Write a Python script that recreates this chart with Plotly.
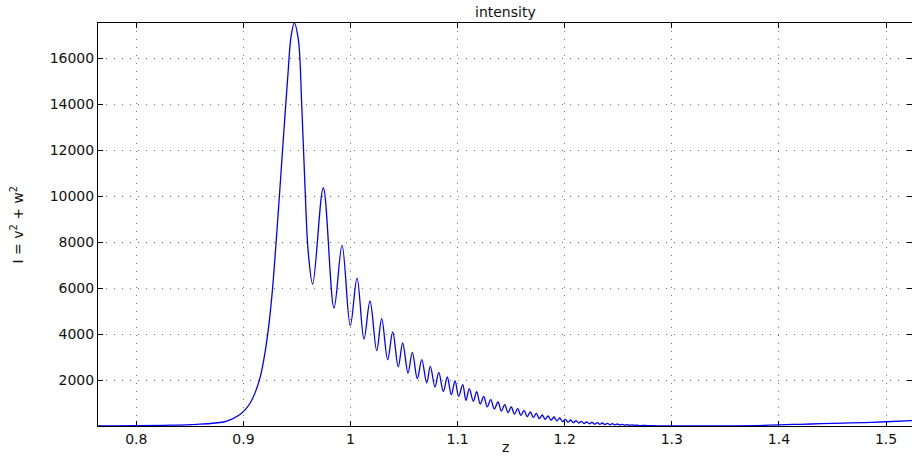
import plotly.graph_objects as go

# z positions and intensity values (extrema and shape points)
z_vals = [
    0.7643, 0.780, 0.800, 0.8256, 0.8567, 0.8816, 0.8877, 0.8968, 0.9015, 0.9062,
    0.9109, 0.9155, 0.9193, 0.9230, 0.9267, 0.9304, 0.9342, 0.9379, 0.9416, 0.9444,
    0.9475, 0.9513, 0.9544, 0.9575, 0.9606, 0.9647,
    0.9746, 0.9846, 0.9921, 0.9998, 1.0061, 1.0126, 1.0182, 1.0245, 1.0291, 1.0347,
    1.0394, 1.0446, 1.0487, 1.0537, 1.0577, 1.0624, 1.0665, 1.0712, 1.0745, 1.0789,
    1.0824, 1.0867, 1.0904, 1.0941, 1.0976, 1.1010, 1.1048, 1.1078, 1.1109, 1.1147,
    1.1178, 1.1211, 1.1244, 1.1277, 1.1309, 1.1343, 1.1377, 1.1409, 1.1440, 1.1471,
    1.1501, 1.1531, 1.1561, 1.1591, 1.1620, 1.1650, 1.1679, 1.1707, 1.1735, 1.1763,
    1.1791, 1.1818, 1.1844, 1.1872, 1.1900, 1.1927, 1.1953, 1.1980, 1.2006, 1.2031,
    1.2056, 1.2081, 1.2106, 1.2131, 1.2155, 1.2180, 1.2205, 1.2230, 1.2255, 1.2280,
    1.2304, 1.2328, 1.2351, 1.2375, 1.2398, 1.2422, 1.2445, 1.2468, 1.2491, 1.2514,
    1.2537, 1.2560, 1.2583, 1.2606, 1.2629, 1.2652, 1.2675, 1.2700, 1.2750, 1.2800,
    1.2900, 1.3000, 1.3200, 1.3400, 1.3600, 1.3800, 1.4000, 1.4200, 1.4400, 1.4600,
    1.4800, 1.5000, 1.5243,
]
intensity = [
    3, 5, 10, 30, 72, 174, 270, 500, 700, 990,
    1440, 2090, 2950, 4100, 5700, 7900, 10400, 12900, 15300, 16900,
    17520, 16800, 14040, 10410, 7520, 6174,
    10348, 5130, 7853, 4361, 6430, 3783, 5435, 3274, 4665, 2883,
    4087, 2578, 3609, 2304, 3200, 2057, 2883, 1870, 2591, 1696,
    2331, 1504, 2130, 1361, 1957, 1287, 1796, 1113, 1622, 1070,
    1491, 960, 1287, 830, 1143, 740, 1043, 650, 926, 580,
    826, 520, 752, 460, 678, 410, 609, 365, 548, 320,
    478, 285, 435, 250, 391, 220, 348, 190, 287, 165,
    261, 145, 230, 125, 200, 108, 174, 95, 157, 82,
    143, 72, 130, 62, 113, 52, 100, 45, 87, 40,
    75, 35, 62, 30, 50, 25, 40, 20, 25, 12,
    8, 4, 2, 2, 6, 20, 50, 75, 100, 125,
    150, 185, 230,
]

x_ticks = [0.8, 0.9, 1.0, 1.1, 1.2, 1.3, 1.4, 1.5]
y_ticks = [2000, 4000, 6000, 8000, 10000, 12000, 14000, 16000]

font_family = "DejaVu Sans, Liberation Sans, Arial, sans-serif"

fig = go.Figure()
fig.add_trace(go.Scatter(
    x=z_vals, y=intensity, mode="lines",
    line=dict(color="#0000ff", width=1.3, shape="spline", smoothing=1.0),
    hoverinfo="skip", showlegend=False,
))

axis_common = dict(
    showline=True, linecolor="black", linewidth=1, mirror="ticks",
    ticks="inside", ticklen=5, tickcolor="black", tickwidth=1,
    showgrid=True, gridcolor="#777777", gridwidth=1, griddash="1px,7px",
    zeroline=False, tickfont=dict(family=font_family, size=14, color="#111111"),
)

fig.update_layout(
    width=912, height=458,
    margin=dict(l=98, r=0, t=23, b=32),
    paper_bgcolor="white", plot_bgcolor="white",
    xaxis=dict(range=[0.76424, 1.52428], tickvals=x_ticks, **axis_common),
    yaxis=dict(range=[0, 17522], tickvals=y_ticks, tickformat="d", **axis_common),
    font=dict(family=font_family, size=14, color="#111111"),
    annotations=[
        dict(text="intensity", xref="paper", yref="paper", x=0.5, y=1,
             xanchor="center", yanchor="bottom", yshift=1, showarrow=False,
             font=dict(family=font_family, size=14, color="#111111")),
        dict(text="z", xref="paper", yref="paper", x=0.5, y=0,
             xanchor="center", yanchor="top", yshift=-11, showarrow=False,
             font=dict(family=font_family, size=14, color="#111111")),
        dict(text="I = v<sup>2</sup> + w<sup>2</sup>", xref="paper", yref="paper",
             x=0, y=0.5, xanchor="center", yanchor="middle", xshift=-81,
             textangle=-90, showarrow=False,
             font=dict(family=font_family, size=14, color="#111111")),
    ],
)

fig.write_html("out.html")
